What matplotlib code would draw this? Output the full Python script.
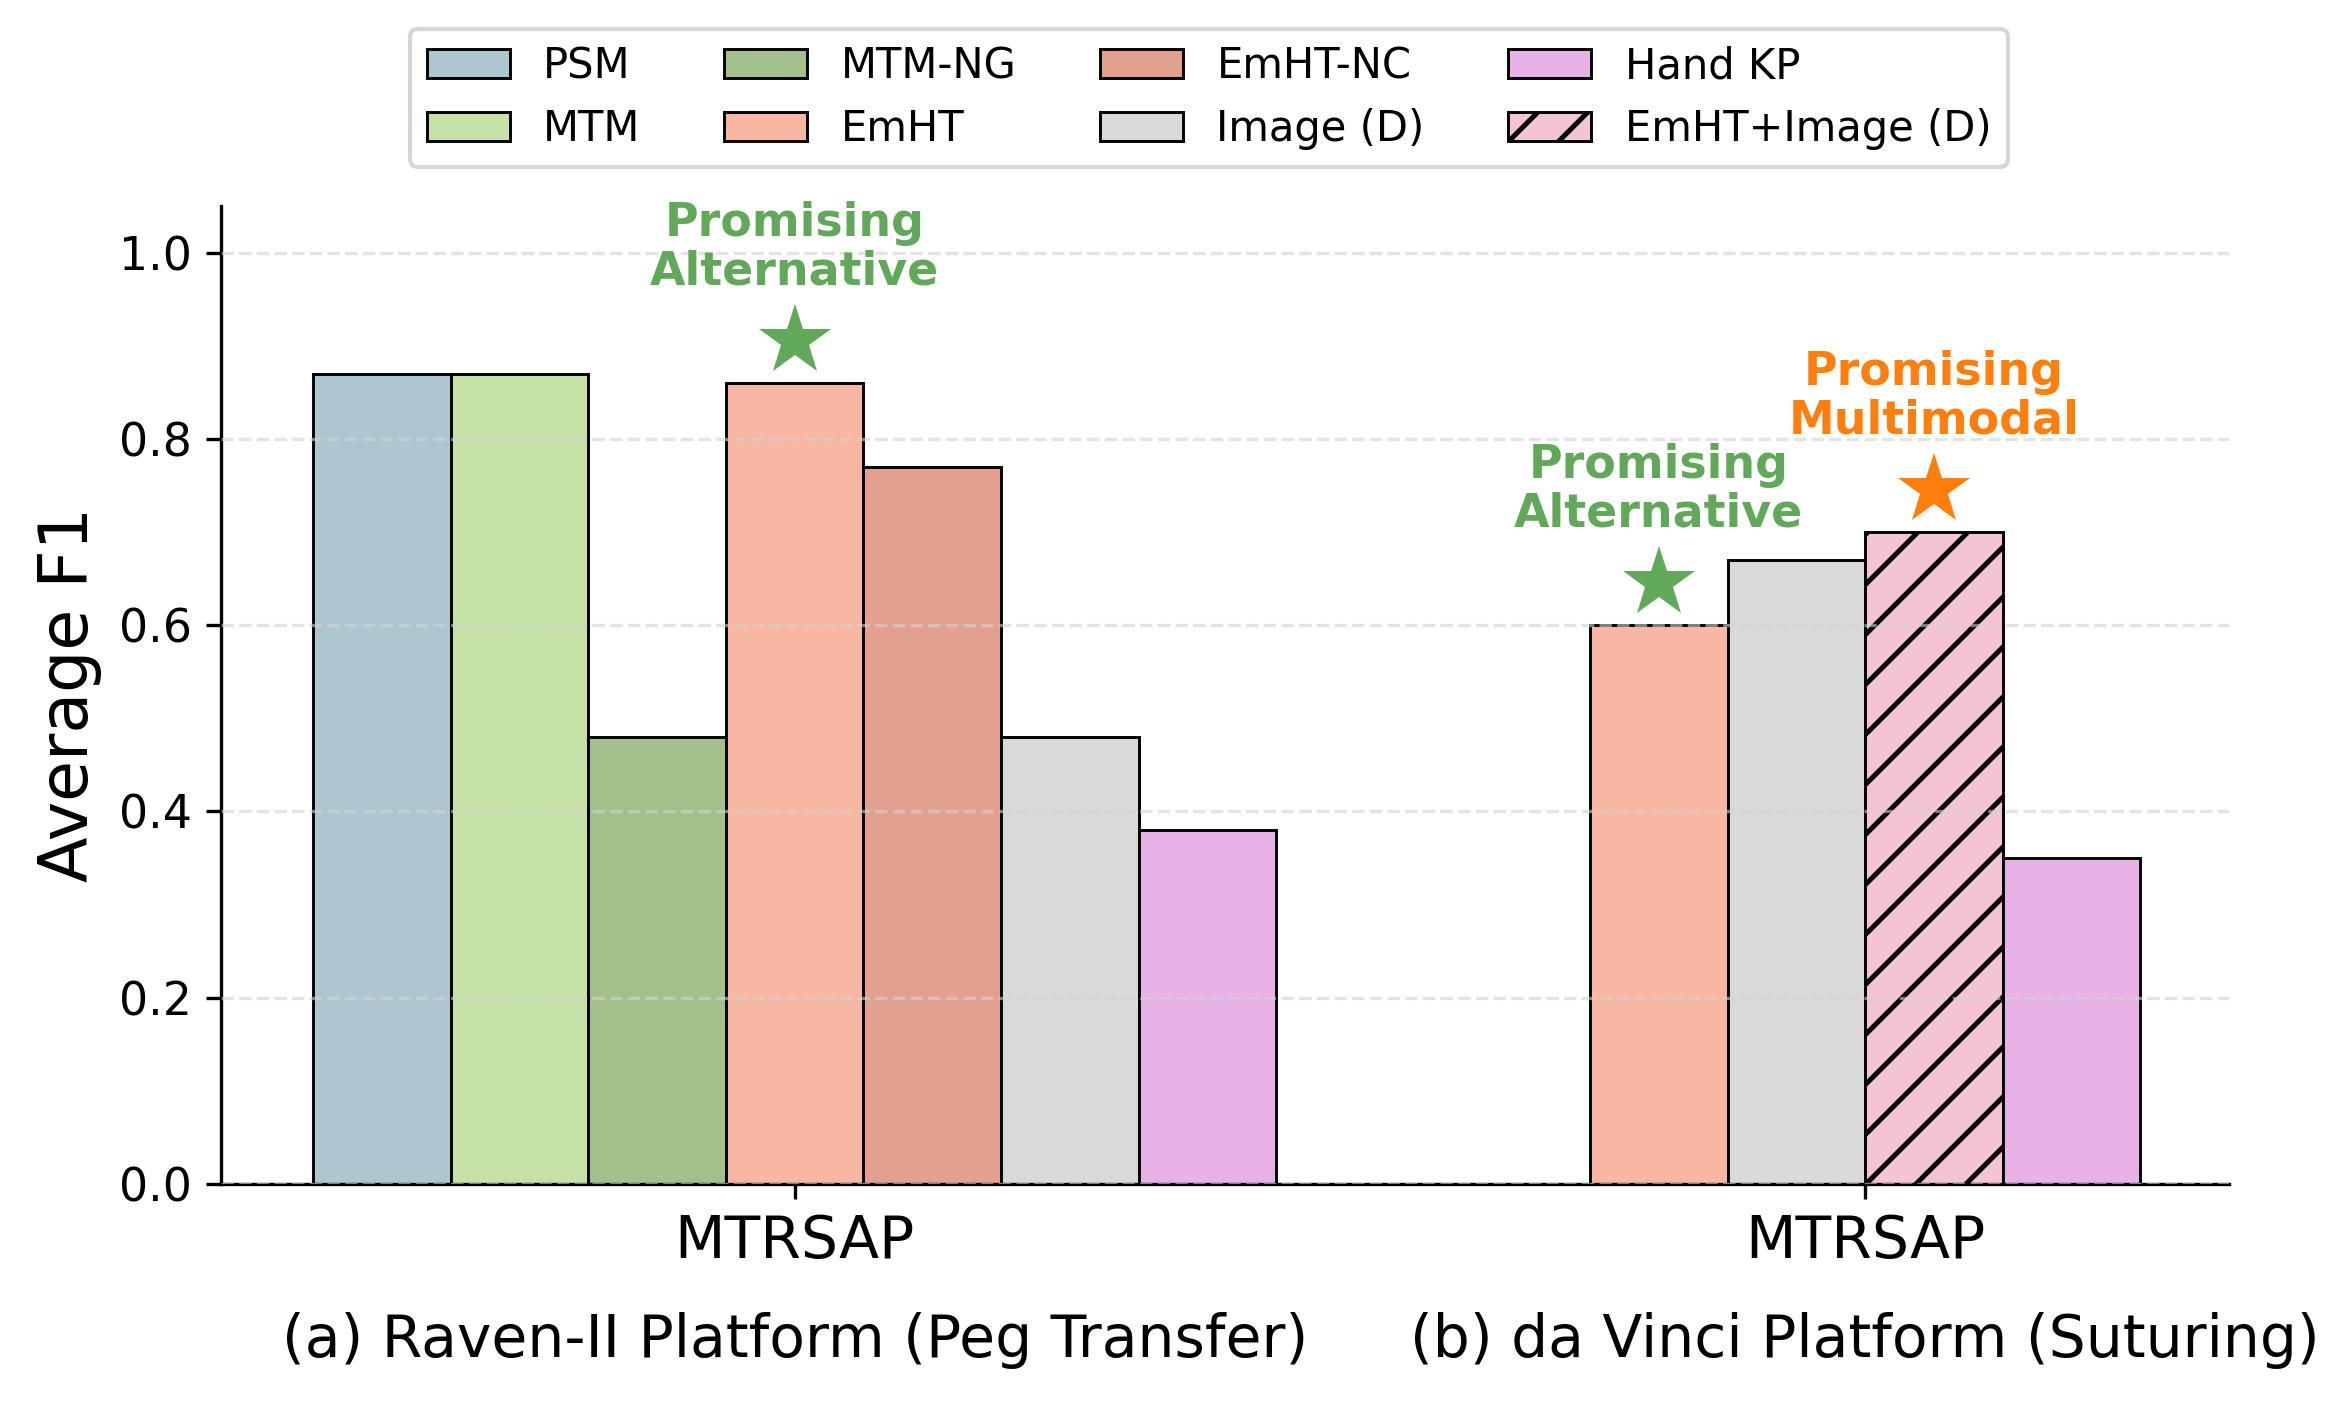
import matplotlib
matplotlib.use('Agg')
import matplotlib.pyplot as plt
import numpy as np

# data
groups = ['MTRSAP', 'MTRSAP']
subtitles = ['(a) Raven-II Platform (Peg Transfer)', '(b) da Vinci Platform (Suturing)']

raven_names = ['PSM', 'MTM', 'MTM-NG', 'EmHT', 'EmHT-NC', 'Image (D)', 'Hand KP']
raven_vals = [0.87, 0.87, 0.48, 0.86, 0.77, 0.48, 0.38]

davinci_names = ['EmHT', 'Image (D)', 'EmHT+Image (D)', 'Hand KP']
davinci_vals = [0.60, 0.67, 0.70, 0.35]

colors = {
    'PSM': '#aec6cf',
    'MTM': '#c5e1a5',
    'MTM-NG': '#a3c08b',
    'EmHT': '#f7b7a3',
    'EmHT-NC': '#e2a08f',
    'Image (D)': '#d9d9d9',
    'Hand KP': '#e8b2e6',
    'EmHT+Image (D)': '#f4c4d6',
}
hatches = {'EmHT+Image (D)': '//'}

# annotations: (group, model, text, colour)
notes = [
    (0, 'EmHT', 'Promising\nAlternative', '#62a85a'),
    (1, 'EmHT', 'Promising\nAlternative', '#62a85a'),
    (1, 'EmHT+Image (D)', 'Promising\nMultimodal', '#ff7f0e'),
]

plt.rcParams['hatch.linewidth'] = 1.2
fig, ax = plt.subplots(figsize=(7.83, 4.67), dpi=300)

width = 0.9 / 7
handles = {}
tops = {}
for g, (names, vals) in enumerate([(raven_names, raven_vals), (davinci_names, davinci_vals)]):
    n = len(names)
    for i, (name, v) in enumerate(zip(names, vals)):
        x = g + (i - (n - 1) / 2) * width
        b = ax.bar(x, v, width, color=colors[name], edgecolor='black', linewidth=0.7,
                   hatch=hatches.get(name), label=name)
        handles[name] = b
        tops[(g, name)] = (x, v)

for g, name, txt, c in notes:
    x, v = tops[(g, name)]
    ax.plot(x, v + 0.045, marker='*', markersize=18, markeredgewidth=0, color=c, linestyle='none')
    ax.text(x, v + 0.095, txt, ha='center', va='bottom', color=c, fontsize=11,
            fontweight='bold', linespacing=1.1)

ax.set_ylim(0, 1.05)
ax.set_xlim(-0.536, 1.34)
ax.set_xticks([0, 1])
ax.set_xticklabels(groups, fontsize=14)
ax.tick_params(axis='y', labelsize=11)
ax.set_ylabel('Average F1', fontsize=16)
ax.yaxis.grid(True, linestyle='--', color='lightgray', alpha=0.6, linewidth=0.8)
ax.set_axisbelow(False)
ax.spines['top'].set_visible(False)
ax.spines['right'].set_visible(False)

for g, s in enumerate(subtitles):
    ax.text(g, -0.16, s, transform=ax.get_xaxis_transform(), ha='center', va='center', fontsize=14)

order = ['PSM', 'MTM', 'MTM-NG', 'EmHT', 'EmHT-NC', 'Image (D)', 'Hand KP', 'EmHT+Image (D)']
ax.legend([handles[k] for k in order], order, loc='lower center', bbox_to_anchor=(0.492, 1.04),
          ncol=4, fontsize=10, borderaxespad=0, frameon=True)

fig.subplots_adjust(left=0.094, right=0.949, top=0.853, bottom=0.155)
plt.savefig('out.png', dpi=300)
